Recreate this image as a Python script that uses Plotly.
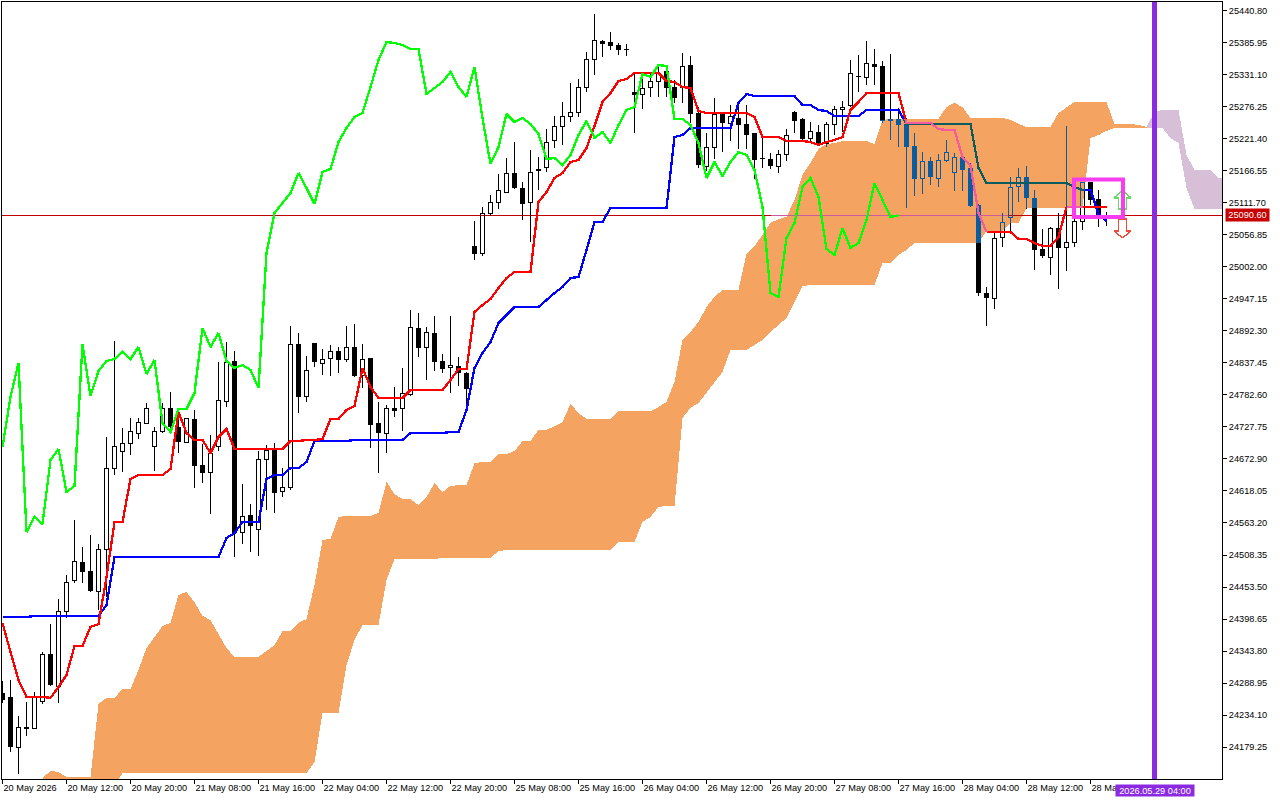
import numpy as np
import plotly.graph_objects as go

# ---- candle data, one hourly bar per entry ----
opens = [24271.8,24265.1,24179.2,24213.5,24211.8,24256.4,24338.6,24282.1,24412.3,24463.8,24496.3,24480.9,24446.6,24518.6,24657.4,24686.6,24700.3,24717.4,24734.6,24693.5,
24719.2,24760.3,24727.7,24702.0,24741.5,24662.6,24650.6,24693.5,24770.6,24840.9,24547.7,24576.9,24552.9,24671.2,24688.3,24618.0,24624.9,24870.0,24779.2,24871.7,
24837.4,24846.0,24858.0,24842.6,24864.8,24815.2,24846.0,24734.6,24717.4,24760.3,24758.6,24782.6,24897.4,24864.8,24888.9,24840.9,24828.9,24832.3,24820.3,25038.0,
25024.3,25094.5,25111.7,25130.5,25163.1,25137.4,25111.7,25170.0,25171.7,25218.0,25242.0,25259.1,25266.0,25310.5,25356.8,25389.4,25387.7,25382.5,25375.6,25302.0,
25298.5,25310.5,25320.8,25338.0,25310.5,25310.5,25348.2,25266.0,25175.1,25206.0,25264.2,25248.8,25257.4,25247.1,25231.7,25188.8,25187.1,25173.4,25194.0,25267.7,
25255.7,25223.1,25233.4,25214.5,25245.4,25271.1,25279.6,25329.4,25326.0,25350.0,25346.5,25255.7,25255.7,25247.1,25209.4,25154.5,25183.7,25154.5,25183.7,25164.8,
25190.5,25171.7,25108.3,24957.4,24948.8,25053.4,25086.0,25140.8,25156.2,25120.3,25032.8,25019.1,25068.8,25034.6,25044.8,25080.8,25147.7,25118.6,25091.5]
highs = [24292.4,24294.1,24232.2,24256.4,24273.5,24342.1,24390.0,24432.9,24474.0,24568.3,24522.0,24542.6,24527.2,24710.6,24875.1,24726.0,24743.2,24743.2,24768.9,24727.7,
24768.9,24787.7,24760.3,24741.5,24756.9,24698.6,24714.0,24839.1,24873.4,24858.0,24630.0,24595.7,24686.6,24696.9,24700.3,24657.4,24900.9,24888.9,24849.4,24871.7,
24861.4,24868.3,24864.8,24900.9,24904.3,24870.0,24846.0,24770.6,24765.4,24796.3,24828.9,24928.3,24923.1,24899.1,24918.0,24852.9,24918.0,24847.7,24822.0,25080.8,
25104.8,25125.4,25161.4,25188.8,25216.2,25147.7,25202.5,25190.5,25238.5,25260.8,25284.8,25317.4,25324.2,25370.5,25435.7,25391.1,25404.8,25385.9,25384.2,25334.5,
25332.8,25332.8,25348.2,25348.2,25322.5,25368.8,25363.7,25276.2,25231.7,25291.7,25267.7,25279.6,25276.2,25279.6,25231.7,25223.1,25197.4,25202.5,25238.5,25269.4,
25257.4,25250.5,25245.4,25250.5,25277.9,25286.5,25356.8,25365.4,25389.4,25375.6,25355.1,25367.1,25274.5,25257.4,25231.7,25199.1,25190.5,25195.7,25219.7,25197.4,
25194.0,25180.3,25110.0,24967.7,25062.0,25094.5,25156.2,25171.7,25175.1,25134.0,25067.1,25070.5,25094.5,25243.7,25104.8,25147.7,25147.7,25134.0,25096.3]
lows = [24254.6,24170.7,24132.9,24198.1,24210.1,24253.0,24283.8,24254.6,24400.3,24460.3,24460.3,24444.9,24414.1,24436.3,24645.4,24650.6,24679.7,24707.2,24732.9,24652.3,
24717.4,24726.0,24683.1,24700.3,24623.2,24631.7,24578.6,24686.6,24762.0,24504.9,24527.2,24513.5,24506.6,24585.5,24580.3,24607.7,24619.7,24751.7,24770.6,24830.6,
24816.9,24815.2,24820.3,24839.1,24813.4,24794.6,24691.7,24648.9,24683.1,24744.9,24720.9,24780.9,24847.7,24808.3,24823.7,24820.3,24786.0,24798.0,24767.2,25014.0,
25020.8,25089.4,25101.4,25128.8,25135.7,25082.5,25044.8,25134.0,25164.8,25206.0,25211.1,25250.5,25259.1,25302.0,25331.1,25362.0,25374.0,25365.4,25363.7,25231.7,
25272.8,25293.4,25293.4,25293.4,25283.1,25283.1,25248.8,25171.7,25166.5,25187.1,25199.1,25218.0,25204.2,25204.2,25152.8,25171.7,25170.0,25163.1,25183.7,25231.7,
25216.2,25216.2,25209.4,25207.7,25228.2,25233.4,25276.2,25302.0,25314.0,25314.0,25248.8,25219.7,25207.7,25103.1,25123.7,25127.1,25142.5,25139.1,25182.0,25132.3,
25132.3,25104.8,24952.3,24900.9,24930.0,25036.3,25062.0,25113.4,25101.4,24996.8,25017.4,24988.3,24964.3,24995.1,25036.3,25065.4,25108.3,25070.5,25072.3]
closes = [24259.8,24179.2,24213.5,24210.1,24263.4,24338.6,24285.5,24412.3,24462.0,24498.0,24479.2,24446.6,24518.6,24657.4,24693.5,24700.3,24719.2,24736.3,24758.6,24719.2,
24758.6,24727.7,24702.0,24741.5,24660.9,24648.9,24683.1,24774.0,24839.1,24546.0,24573.5,24558.0,24671.2,24688.3,24614.6,24624.9,24870.0,24779.2,24825.4,24839.1,
24842.6,24856.3,24842.6,24864.8,24815.2,24842.6,24731.2,24717.4,24758.6,24755.1,24786.0,24899.1,24863.1,24888.9,24839.1,24827.2,24834.0,24820.3,24792.9,25024.3,
25094.5,25111.7,25132.3,25163.1,25137.4,25110.0,25164.8,25166.5,25216.2,25242.0,25259.1,25266.0,25310.5,25356.8,25389.4,25384.2,25380.8,25374.0,25374.0,25296.8,
25308.8,25320.8,25334.5,25308.8,25291.7,25346.5,25264.2,25176.8,25206.0,25264.2,25248.8,25259.1,25245.4,25228.2,25185.4,25187.1,25175.1,25194.0,25228.2,25252.2,
25221.4,25233.4,25212.8,25245.4,25271.1,25276.2,25334.5,25327.7,25350.0,25344.8,25252.2,25252.2,25245.4,25207.7,25152.8,25182.0,25156.2,25183.7,25199.1,25190.5,
25168.3,25106.6,24957.4,24948.8,25050.0,25079.1,25137.4,25156.2,25120.3,25031.1,25020.8,25068.8,25034.6,25044.8,25080.8,25146.0,25116.8,25091.1,25090.6]

tenkan = [24391.8,24342.1,24294.1,24265.1,24265.1,24265.1,24263.4,24282.1,24302.6,24352.4,24352.4,24385.0,24390.0,24470.6,24564.9,24564.9,24638.6,24645.4,24645.4,24645.4,
24645.4,24655.7,24753.4,24717.4,24705.4,24705.4,24683.1,24710.6,24724.3,24690.0,24690.0,24690.0,24690.0,24690.0,24690.0,24690.0,24703.7,24703.7,24705.4,24705.4,
24707.2,24741.5,24741.5,24756.9,24763.7,24828.9,24796.3,24777.4,24777.4,24777.4,24777.4,24791.2,24791.2,24791.2,24791.2,24791.2,24808.3,24827.2,24827.2,24924.8,
24936.8,24947.1,24966.0,24983.1,24993.4,24993.4,24993.4,25113.4,25130.5,25154.5,25163.1,25182.0,25185.4,25206.0,25243.7,25284.8,25300.2,25320.8,25324.2,25334.5,
25334.5,25334.5,25334.5,25320.8,25319.1,25310.5,25308.8,25269.4,25266.0,25266.0,25266.0,25266.0,25266.0,25266.0,25259.1,25224.8,25224.8,25224.8,25218.0,25218.0,
25218.0,25216.2,25211.1,25216.2,25219.7,25224.8,25271.1,25284.8,25300.2,25300.2,25300.2,25300.2,25300.2,25248.8,25248.8,25248.8,25248.8,25238.5,25236.8,25236.8,
25190.5,25175.1,25094.5,25062.0,25062.0,25062.0,25062.0,25050.0,25050.0,25043.1,25038.0,25038.0,25053.4,25104.8,25104.8,25104.8,25104.8,25104.8,25104.8]
kijun = [24402.1,24402.1,24402.1,24402.1,24403.8,24403.8,24403.8,24403.8,24403.8,24403.8,24403.8,24403.8,24403.8,24422.6,24504.9,24504.9,24504.9,24504.9,24504.9,24504.9,
24504.9,24504.9,24504.9,24504.9,24504.9,24504.9,24504.9,24504.9,24537.5,24546.0,24564.9,24564.9,24564.9,24638.6,24645.4,24645.4,24657.4,24657.4,24667.7,24703.7,
24703.7,24703.7,24703.7,24703.7,24705.4,24705.4,24705.4,24705.4,24705.4,24705.4,24705.4,24717.4,24717.4,24717.4,24717.4,24717.4,24719.2,24719.2,24756.9,24828.9,
24854.6,24873.4,24906.0,24919.7,24933.4,24933.4,24933.4,24933.4,24945.4,24957.4,24967.7,24983.1,24984.8,25031.1,25079.1,25079.1,25103.1,25103.1,25103.1,25103.1,
25103.1,25103.1,25103.1,25103.1,25224.8,25228.2,25240.2,25240.2,25240.2,25240.2,25240.2,25240.2,25283.1,25298.5,25295.1,25295.1,25295.1,25295.1,25295.1,25295.1,
25279.6,25279.6,25271.1,25269.4,25260.8,25260.8,25260.8,25260.8,25271.1,25271.1,25271.1,25271.1,25271.1,25247.1,25247.1,25247.1,25247.1,25247.1,25247.1,25247.1,
25247.1,25247.1,25171.7,25145.9,25145.9,25145.9,25145.9,25145.9,25145.9,25145.9,25145.9,25145.9,25145.9,25145.9,25139.1,25134.0,25134.0,25092.8,25080.8]
chikou = [24693.5,24779.2,24837.4,24547.7,24573.5,24561.5,24671.2,24690.0,24616.3,24626.6,24870.0,24780.9,24823.7,24840.9,24844.3,24856.3,24844.3,24864.8,24818.6,24842.6,
24734.6,24719.2,24758.6,24758.6,24786.0,24897.4,24864.8,24888.9,24840.9,24828.9,24834.0,24825.4,24794.6,25026.0,25094.5,25111.7,25128.8,25163.1,25137.4,25110.0,
25164.8,25170.0,25216.2,25240.2,25259.1,25266.0,25310.5,25356.8,25387.7,25385.9,25382.5,25375.6,25375.6,25298.5,25308.8,25319.1,25336.2,25310.5,25293.4,25344.8,
25257.4,25178.5,25207.7,25264.2,25250.5,25257.4,25247.1,25229.9,25187.1,25188.8,25176.8,25194.0,25228.2,25252.2,25223.1,25233.4,25214.5,25245.4,25271.1,25276.2,
25332.8,25327.7,25348.2,25346.5,25255.7,25255.7,25245.4,25214.5,25154.5,25182.0,25157.9,25182.0,25199.1,25194.0,25168.3,25104.8,24957.4,24950.6,25051.7,25077.4,
25139.1,25154.5,25122.0,25032.8,25022.6,25068.8,25034.6,25043.1,25082.5,25145.9,25116.8,25087.7,25090.6]

# Senkou spans start at bar 5 and run 15 bars past the last candle
span_first_bar = 5
span_a = [24126.1,24138.1,24136.4,24127.8,24127.8,24127.8,24127.8,24253.0,24263.4,24263.4,24278.6,24278.6,
24311.2,24348.9,24367.8,24386.6,24391.8,24439.8,24444.9,24427.8,24403.8,24396.9,24372.9,24348.9,
24333.5,24333.5,24333.5,24333.5,24343.8,24354.0,24378.0,24378.0,24391.8,24398.6,24456.9,
24534.0,24535.8,24573.5,24575.2,24575.2,24575.2,24575.2,24580.3,
24633.5,24612.9,24604.3,24604.3,24594.0,24607.7,24631.7,24616.3,24626.6,24628.3,24628.3,
24665.9,24667.7,24667.7,24681.4,24681.4,24686.6,24703.7,24703.7,24722.6,24722.6,24729.4,24736.3,24767.2,24751.7,
24741.5,24741.5,24741.5,24741.5,24755.1,24755.1,24755.1,24755.1,24755.1,24762.0,24770.6,24804.9,
24876.9,24890.6,24907.7,24933.4,24950.6,24962.6,24962.6,24962.6,
25024.3,25038.0,25056.8,25077.4,25084.2,25087.7,25116.8,25159.7,25180.3,25204.2,25212.8,25214.5,
25217.9,25217.9,25217.9,25217.9,25212.8,25254.0,25255.7,25255.7,25255.7,25255.7,25255.7,25255.7,25255.7,25276.2,25283.1,25276.2,
25257.4,25257.4,25257.4,25257.4,25257.4,25254.0,25247.1,25242.0,25242.0,25242.0,25242.0,25266.0,25276.2,
25284.8,25284.8,25284.8,25284.8,25284.8,25247.1,25247.1,25247.1,25245.4,25242.0,
25240.2,25240.2,25223.1,25214.5,25137.4,25101.4,25101.4,25101.4,25101.4,25101.4]
span_b = [24114.1,24114.1,24114.1,24114.1,24114.1,24114.1,24114.1,24114.1,24114.1,24114.1,
24134.6,24134.6,24134.6,24134.6,24134.6,24134.6,24134.6,24134.6,24134.6,24134.6,24134.6,24134.6,
24134.6,24134.6,24134.6,24134.6,24134.6,24134.6,24134.6,24134.6,24134.6,24134.6,24134.6,24134.6,
24153.5,24237.5,24237.5,24237.5,24319.8,24362.6,24388.3,24388.3,24388.3,24465.5,
24501.5,24501.5,24501.5,24501.5,24501.5,24501.5,24503.2,24503.2,24503.2,24503.2,24503.2,24503.2,24503.2,24515.2,
24516.9,24516.9,24516.9,24516.9,24516.9,24516.9,24516.9,24516.9,24516.9,24516.9,24516.9,24516.9,24516.9,24516.9,
24530.6,24530.6,24530.6,24564.9,24573.5,24590.8,24592.3,24592.3,24743.2,24760.3,24768.9,24787.7,24804.9,24822.0,
24859.7,24859.7,24859.7,24868.3,24876.9,24890.6,24902.6,24914.6,24942.0,24969.4,
24971.1,24971.1,24971.1,24971.1,24971.1,24971.1,24971.1,24971.1,24971.1,25008.8,25008.8,25022.6,25031.1,
25043.1,25043.1,25043.1,25043.1,25043.1,25043.1,25043.1,25043.1,25043.1,25063.7,25063.7,25063.7,25077.4,25077.4,
25103.1,25103.1,25103.1,25103.1,25103.1,25103.1,25103.1,25103.1,25223.1,25228.2,25235.1,
25240.2,25240.2,25240.2,25240.2,25240.2,
25267.7,25271.1,25271.1,25271.1,25194.0,25168.3,25168.3,25168.3,25154.5,25152.8]
span_turn_bar = 143

x_tick_bars = [0,8,16,24,32,40,48,56,64,72,80,88,96,104,112,120,128,136]
x_tick_labels = ["20 May 2026","20 May 12:00","20 May 20:00","21 May 08:00","21 May 16:00","22 May 04:00",
"22 May 12:00","22 May 20:00","25 May 08:00","25 May 16:00","26 May 04:00","26 May 12:00","26 May 20:00",
"27 May 08:00","27 May 16:00","28 May 04:00","28 May 12:00","28 May 20:00"]
y_ticks = [25440.80,25385.95,25331.10,25276.25,25221.40,25166.55,25111.70,25056.85,25002.00,24947.15,24892.30,24837.45,
24782.60,24727.75,24672.90,24618.05,24563.20,24508.35,24453.50,24398.65,24343.80,24288.95,24234.10,24179.25]

last_price = 25090.60
future_bar = 144
future_label = "2026.05.29 04:00"
box_bars = [133.94, 140.06]
box_prices = [25087.7, 25151.9]
up_arrow_bar = 140
up_arrow_prices = [25134.0, 25120.3, 25101.4]     # tip, head base, tail
down_arrow_prices = [25051.7, 25063.7, 25084.3]   # tip, head base, tail

assert len(opens)==len(highs)==len(lows)==len(closes)==len(tenkan)==len(kijun)==139
assert len(chikou)==113 and len(span_a)==len(span_b)==149

# ---- styles ----
CLOUD_UP = "#F4A460"
CLOUD_DOWN = "#D8BFD8"
BLACK_IN = "#0B5B9F"
TENKAN, TENKAN_IN = "#FF0000", "#F45B9F"
KIJUN, KIJUN_IN = "#0000FF", "#0B5B60"
PRICE, PRICE_IN = "#C00000", "#CB5B9F"
CHIKOU = "#00FF00"
VIOLET = "#8A2BE2"
MAGENTA = "#F83CF0"
FONT = "Liberation Sans"
FONT_SIZE = 9.2
ILINE = 2.3
X_MIN, X_MAX = -0.0625, 152.4375
Y_MIN, Y_MAX = 24124.4, 25456.2

cloud_bars = np.arange(span_first_bar, span_first_bar + len(span_a))
a = np.array(span_a); b = np.array(span_b)
upper = np.maximum(a, b); lower = np.minimum(a, b)
turn = span_turn_bar - span_first_bar


def in_cloud(bar, price):
    if bar < span_first_bar or bar > span_turn_bar:
        return False
    return np.interp(bar, cloud_bars, lower) <= price <= np.interp(bar, cloud_bars, upper)


def vert_parts(bar, p1, p2):
    """Cut a vertical stretch at the cloud edges: the cloud inverts what it covers."""
    lo, hi = min(p1, p2), max(p1, p2)
    cuts = [lo, hi]
    if span_first_bar <= bar <= span_turn_bar:
        for c in (np.interp(bar, cloud_bars, lower), np.interp(bar, cloud_bars, upper)):
            if lo < c < hi:
                cuts.append(float(c))
    cuts = sorted(cuts)
    return [(cuts[k], cuts[k + 1], in_cloud(bar, (cuts[k] + cuts[k + 1]) / 2)) for k in range(len(cuts) - 1)]


thin = {False: ([], []), True: ([], [])}
thick = {False: ([], []), True: ([], [])}


def add(store, flag, xs, ys):
    store[flag][0].extend(list(xs) + [None])
    store[flag][1].extend(list(ys) + [None])


for i in range(len(opens)):
    o, h, l, c = opens[i], highs[i], lows[i], closes[i]
    top, bot = max(o, c), min(o, c)
    for pa, pb, f in vert_parts(i, top, h) + vert_parts(i, l, bot):
        add(thin, f, [i, i], [pa, pb])
    if c > o:  # rising bar: outline only
        for dx in (-0.25, 0.25):
            for pa, pb, f in vert_parts(i + dx, bot, top):
                add(thin, f, [i + dx, i + dx], [pa, pb])
        add(thin, in_cloud(i, top), [i - 0.3, i + 0.3], [top, top])
        add(thin, in_cloud(i, bot), [i - 0.3, i + 0.3], [bot, bot])
    else:
        for pa, pb, f in vert_parts(i, bot, top):
            add(thick, f, [i, i], [pa, pb])


def split_line(bars, values, steps=8):
    """Two polylines: the stretches of a series outside and inside the cloud."""
    out = ([], []); ins = ([], [])
    prev = None
    for k in range(len(bars) - 1):
        for s in range(steps):
            t0, t1 = s / steps, (s + 1) / steps
            x0 = bars[k] + (bars[k + 1] - bars[k]) * t0
            x1 = bars[k] + (bars[k + 1] - bars[k]) * t1
            y0 = values[k] + (values[k + 1] - values[k]) * t0
            y1 = values[k] + (values[k + 1] - values[k]) * t1
            f = in_cloud((x0 + x1) / 2, (y0 + y1) / 2)
            tgt = ins if f else out
            if prev is not f:
                if prev is not None:
                    (ins if prev else out)[0].append(None)
                    (ins if prev else out)[1].append(None)
                tgt[0].append(x0); tgt[1].append(y0)
            tgt[0].append(x1); tgt[1].append(y1)
            prev = f
    return out, ins


fig = go.Figure()


def line(xs, ys, color, width):
    fig.add_trace(go.Scatter(x=xs, y=ys, mode="lines", line=dict(color=color, width=width, simplify=False),
                             hoverinfo="skip", showlegend=False))


# clouds
cx = cloud_bars[:turn + 1]
fig.add_trace(go.Scatter(x=list(cx) + list(cx[::-1]), y=list(upper[:turn + 1]) + list(lower[:turn + 1][::-1]),
                         fill="toself", fillcolor=CLOUD_UP, mode="lines", line=dict(width=0), hoverinfo="skip", showlegend=False))
cx2 = cloud_bars[turn:]
fig.add_trace(go.Scatter(x=list(cx2) + list(cx2[::-1]), y=list(upper[turn:]) + list(lower[turn:][::-1]),
                         fill="toself", fillcolor=CLOUD_DOWN, mode="lines", line=dict(width=0), hoverinfo="skip", showlegend=False))

# last-price line
pl_out, pl_in = split_line([X_MIN, 96, 130, X_MAX], [last_price] * 4)
line(pl_out[0], pl_out[1], PRICE, 1)
line(pl_in[0], pl_in[1], PRICE_IN, 1)

# candles
for f, col in ((False, "#000000"), (True, BLACK_IN)):
    line(thin[f][0], thin[f][1], col, 1)
    line(thick[f][0], thick[f][1], col, 5)

# Ichimoku lines
bars = list(range(len(kijun)))
k_out, k_in = split_line(bars, kijun)
line(k_out[0], k_out[1], KIJUN, ILINE)
line(k_in[0], k_in[1], KIJUN_IN, ILINE)
t_out, t_in = split_line(bars, tenkan)
line(t_out[0], t_out[1], TENKAN, ILINE)
line(t_in[0], t_in[1], TENKAN_IN, ILINE)
line(list(range(len(chikou))), chikou, CHIKOU, ILINE)

# arrows (hollow, on the last bars)
hw, sw = 1.06, 0.5
tip, head, tail = up_arrow_prices
line([up_arrow_bar, up_arrow_bar + hw, up_arrow_bar + sw, up_arrow_bar + sw, up_arrow_bar - sw, up_arrow_bar - sw, up_arrow_bar - hw, up_arrow_bar],
     [tip, head, head, tail, tail, head, head, tip], "#62DC62", 1.5)
tip, head, tail = down_arrow_prices
line([up_arrow_bar, up_arrow_bar + hw, up_arrow_bar + sw, up_arrow_bar + sw, up_arrow_bar - sw, up_arrow_bar - sw, up_arrow_bar - hw, up_arrow_bar],
     [tip, head, head, tail, tail, head, head, tip], "#F04A3A", 1.5)

fig.update_layout(
    width=1280, height=800,
    margin=dict(l=2, r=58, t=2, b=21, pad=0),
    paper_bgcolor="white", plot_bgcolor="white",
    showlegend=False, hovermode=False,
    font=dict(family=FONT, size=FONT_SIZE, color="black"),
    xaxis=dict(range=[X_MIN, X_MAX], tickmode="array", tickvals=x_tick_bars, ticktext=x_tick_labels,
               ticks="outside", ticklen=4, tickcolor="black", tickwidth=1, showgrid=False, zeroline=False,
               showline=True, linecolor="black", linewidth=1, mirror=True, ticklabelposition="outside right",
               tickfont=dict(family=FONT, size=FONT_SIZE, color="black"), automargin=False, tickangle=0, ticklabeloverflow="allow"),
    yaxis=dict(range=[Y_MIN, Y_MAX], side="right", tickmode="array", tickvals=y_ticks,
               ticktext=[f"{v:.2f}" for v in y_ticks], ticks="outside", ticklen=4, tickcolor="black", tickwidth=1,
               showgrid=False, zeroline=False, showline=True, linecolor="black", linewidth=1, mirror=True,
               tickfont=dict(family=FONT, size=FONT_SIZE, color="black"), automargin=False),
    shapes=[
        dict(type="line", xref="x", yref="paper", x0=future_bar, x1=future_bar, y0=0, y1=1,
             line=dict(color=VIOLET, width=5), layer="above"),
        dict(type="rect", xref="x", yref="y", x0=box_bars[0], x1=box_bars[1], y0=box_prices[0], y1=box_prices[1],
             line=dict(color=MAGENTA, width=4), fillcolor="rgba(0,0,0,0)", layer="above"),
    ],
    annotations=[
        dict(xref="paper", yref="y", x=1.0, y=last_price, xanchor="left", yanchor="middle", xshift=3, showarrow=False,
             text=f"{last_price:.2f}", font=dict(family=FONT, size=FONT_SIZE, color="white"), bgcolor="#C80000",
             borderpad=0, width=43, height=12),
        dict(xref="x", yref="paper", x=future_bar, y=0, xanchor="center", yanchor="top", yshift=-5, showarrow=False,
             text=future_label, font=dict(family=FONT, size=FONT_SIZE, color="white"), bgcolor=VIOLET,
             borderpad=0, width=78, height=11),
    ],
)

post = """
document.body.style.margin='0';
document.body.style.overflow='hidden';
var st=document.createElement('style');
st.textContent='.scatterlayer path{shape-rendering:crispEdges}';
document.head.appendChild(st);
"""
fig.write_html("out.html", config={"displayModeBar": False}, post_script=post)
